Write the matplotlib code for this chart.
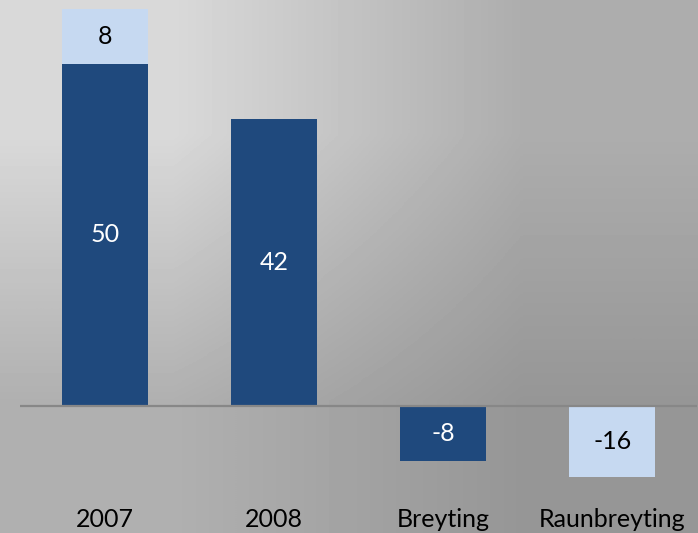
import numpy as np
import matplotlib
matplotlib.use("Agg")
import matplotlib.pyplot as plt

# data
categories = ["2007", "2008", "Breyting", "Raunbreyting"]
base_vals = [50, 42, -8, 0]
top_vals = [8, 0, 0, -16]

DARK = "#1f497d"
LIGHT = "#c6d9f1"

plt.rcParams['font.family'] = ['Lato', 'DejaVu Sans']

W, H = 698, 533
fig = plt.figure(figsize=(W / 100, H / 100), dpi=100)

# diagonal grey gradient background
bg = fig.add_axes([0, 0, 1, 1])
grad = np.array([[0xb0, 0x96], [0xd9, 0xad]]) / 255.0
bg.imshow(grad, cmap="gray", vmin=0, vmax=1, interpolation="bilinear",
          extent=[0, 1, 0, 1], origin="lower", aspect="auto")
bg.set_axis_off()

# plot area in pixel terms
left, right, top, bottom = 20, 697, 0, 477
ax = fig.add_axes([left / W, (H - bottom) / H, (right - left) / W, (bottom - top) / H])
ax.patch.set_visible(False)

zero_px = 406
ppu = 342 / 50.0  # pixels per unit
ymin = -(bottom - zero_px) / ppu
ymax = (zero_px - top) / ppu
ax.set_ylim(ymin, ymax)
ax.set_xlim(-0.5, len(categories) - 0.5)

x = np.arange(len(categories))
width = 86 / 169.0

# first series (dark)
ax.bar(x, base_vals, width=width, color=DARK, edgecolor="none", zorder=2)
# second series (light), stacked on the first where it is positive
bottoms = [b if (t > 0 and b > 0) else 0 for b, t in zip(base_vals, top_vals)]
ax.bar(x, top_vals, width=width, bottom=bottoms, color=LIGHT, edgecolor="none", zorder=2)

ax.axhline(0, color="#878787", lw=1.6, zorder=3)

fs = 18
for i in range(len(categories)):
    b = base_vals[i]
    if b != 0:
        ax.text(x[i], b / 2.0, str(b), ha="center", va="center",
                color="white", fontsize=fs, zorder=4)
    t = top_vals[i]
    if t != 0:
        lo = bottoms[i]
        hi = lo + t
        # clip to what is visible
        lo_v = min(max(lo, ymin), ymax)
        hi_v = min(max(hi, ymin), ymax)
        ax.text(x[i], (lo_v + hi_v) / 2.0, str(t), ha="center", va="center",
                color="black", fontsize=fs, zorder=4)

ax.set_xticks(x)
ax.set_xticklabels(categories, fontsize=fs)
ax.tick_params(axis="x", length=0, pad=22)
ax.set_yticks([])
for s in ax.spines.values():
    s.set_visible(False)

fig.savefig("out.png", dpi=100)
